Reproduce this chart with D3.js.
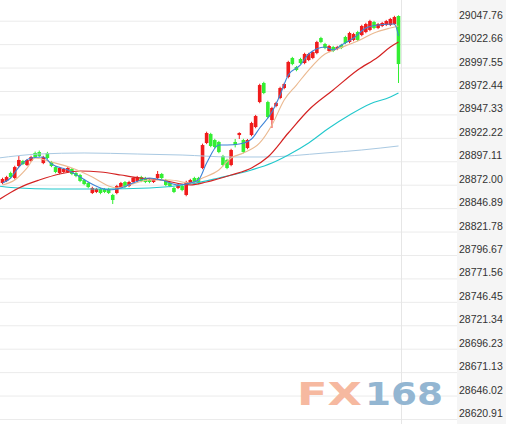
<!DOCTYPE html>
<html><head><meta charset="utf-8">
<script src="https://cdn.jsdelivr.net/npm/d3@7"></script>
<style>html,body{margin:0;padding:0;background:#fff;overflow:hidden}</style>
</head><body><svg id="c" width="506" height="424"></svg>
<script>
const tickLabels = ["29047.76","29022.66","28997.55","28972.44","28947.33","28922.22","28897.11","28872.00","28846.89","28821.78","28796.67","28771.56","28746.45","28721.34","28696.23","28671.13","28646.02","28620.91"];

const opens = [28873.8,28876.0,28884.5,28879.2,28892.0,28897.4,28893.1,28897.4,28906.0,28907.0,
28895.2,28906.0,28896.3,28890.9,28884.5,28885.6,28885.6,28888.8,28884.5,28882.4,
28877.0,28873.8,28863.1,28864.2,28867.4,28867.4,28867.4,28861.0,28863.1,28869.5,
28874.9,28870.6,28874.9,28876.0,28880.2,28879.2,28877.0,28874.9,28879.2,28883.5,
28877.0,28873.8,28868.5,28868.5,28870.6,28861.0,28873.8,28879.2,28879.2,28889.9,
28916.7,28926.3,28919.9,28917.8,28902.8,28898.5,28893.1,28917.8,28925.2,28919.9,
28911.3,28925.2,28933.8,28960.6,28981.0,28960.6,28941.3,28956.3,28964.9,28975.6,
28987.4,29007.8,28998.1,29006.7,29002.4,29005.6,29007.8,29013.1,29029.2,29022.8,
29015.3,29019.6,29017.4,29021.7,29030.3,29024.9,29027.1,29035.6,29032.4,29035.6,
29037.8,29046.4,29039.9,29042.1,29043.2,29043.2,29044.2,29052.8];

const closes = [28878.1,28880.2,28880.2,28890.9,28898.5,28894.2,28898.5,28901.7,28901.7,28902.8,
28901.7,28900.6,28892.0,28885.6,28889.9,28888.8,28889.9,28883.5,28881.3,28876.0,
28872.7,28869.5,28868.5,28867.4,28863.1,28864.2,28863.1,28855.6,28870.6,28873.8,
28869.5,28874.9,28879.2,28880.2,28876.0,28874.9,28874.9,28877.0,28883.5,28879.2,
28871.7,28870.6,28864.2,28871.7,28866.3,28874.9,28877.0,28874.9,28873.8,28914.5,
28927.4,28913.5,28912.4,28907.0,28893.1,28889.9,28909.2,28914.5,28927.4,28907.0,
28919.9,28938.1,28945.6,28978.8,28970.3,28944.5,28954.2,28959.6,28975.6,28979.9,
29003.5,29001.3,28994.9,29002.4,29012.1,29012.1,29014.2,29024.9,29024.9,29018.5,
29020.6,29015.3,29019.6,29018.5,29023.9,29034.6,29033.5,29027.1,29042.1,29044.2,
29047.4,29039.9,29044.2,29045.3,29047.4,29049.6,29051.7,29001.3];

const highs = [28879.5,28881.5,28886.0,28892.3,28902.8,28898.6,28899.6,28903.0,28907.5,28908.6,
28903.0,28907.2,28897.5,28892.0,28891.0,28890.0,28891.2,28890.0,28885.6,28883.6,
28878.2,28875.0,28869.8,28868.6,28868.7,28868.5,28868.6,28862.2,28871.8,28875.0,
28876.0,28876.2,28880.5,28881.4,28881.5,28880.4,28878.3,28878.2,28886.7,28884.6,
28878.2,28875.0,28869.7,28873.0,28871.8,28876.2,28878.3,28880.5,28880.4,28916.0,
28928.8,28927.6,28921.2,28919.0,28904.0,28899.8,28910.5,28921.0,28928.2,28921.2,
28921.0,28939.4,28946.8,28980.2,28982.3,28962.0,28955.5,28960.8,28977.0,28981.2,
29004.8,29009.0,28999.3,29008.0,29013.4,29013.3,29015.5,29026.2,29030.5,29024.0,
29021.8,29020.8,29020.8,29023.0,29031.6,29035.9,29034.8,29036.9,29043.4,29045.5,
29048.7,29047.6,29045.4,29046.5,29048.6,29050.8,29053.0,29053.5];

const lows = [28872.5,28874.8,28879.0,28877.6,28890.8,28893.0,28892.0,28896.3,28900.5,28901.5,
28894.0,28899.4,28890.8,28884.3,28883.2,28884.6,28884.5,28882.2,28880.0,28874.7,
28871.5,28868.2,28862.0,28863.0,28861.8,28863.0,28862.0,28851.3,28861.8,28868.3,
28868.4,28869.4,28873.6,28874.8,28874.7,28873.7,28873.6,28873.8,28878.0,28878.0,
28870.5,28869.4,28863.0,28867.3,28865.0,28859.6,28872.6,28873.6,28872.5,28888.6,
28915.5,28912.2,28911.0,28905.7,28891.8,28888.6,28891.8,28912.0,28921.0,28905.6,
28910.0,28923.9,28932.5,28959.3,28969.0,28943.2,28932.8,28955.0,28963.6,28974.3,
28986.0,29000.0,28993.6,29001.2,29001.1,29004.4,29006.5,29011.8,29023.6,29017.2,
29014.0,29014.1,29016.2,29017.3,29022.6,29023.6,29025.8,29025.8,29031.1,29034.3,
29036.5,29038.6,29038.7,29040.9,29042.0,29042.0,29043.0,28981.0];

// moving averages: [candle index, value]
const ma5 = [[0,28873.8],[2,28879.2],[4,28890.9],[7,28900.6],[10,28901.7],[12,28894.2],[16,28887.8],[19,28880.2],[21,28874.9],[24,28868.5],[26,28866.3],[29,28868.5],[32,28873.8],[36,28879.2],[39,28877.0],[43,28871.7],[46,28873.8],[48,28877.0],[50,28895.2],[53,28914.5],[55,28914.5],[58,28915.6],[61,28921.0],[63,28932.8],[66,28949.9],[68,28968.1],[70,28989.6],[73,29000.3],[75,29012.1],[79,29019.6],[81,29016.4],[83,29021.7],[86,29029.2],[89,29039.9],[92,29043.2],[96,29044.2],[97,29031.4]];
const ma10 = [[0,28871.7],[3,28877.0],[6,28889.9],[8,28900.6],[12,28896.3],[17,28889.9],[22,28880.2],[26,28870.6],[28,28868.5],[31,28871.7],[36,28877.0],[41,28877.0],[46,28873.8],[49,28879.2],[53,28887.8],[56,28900.6],[59,28906.0],[63,28916.7],[66,28936.0],[69,28962.8],[72,28978.8],[75,28994.9],[79,29012.1],[82,29017.4],[87,29026.0],[91,29034.6],[95,29039.9],[97,29042.1]];
const ma20 = [[-1,28855.6],[4,28868.5],[9,28877.0],[14,28883.5],[19,28886.7],[24,28885.6],[29,28882.4],[32,28880.2],[39,28877.0],[46,28871.7],[50,28874.9],[56,28882.4],[61,28889.9],[65,28901.7],[70,28927.4],[75,28952.1],[81,28973.5],[87,28994.9],[92,29008.9],[95,29019.6],[97,29024.9]];
const ma60 = [[-1,28870.6],[4,28868.5],[12,28867.4],[24,28867.4],[36,28868.5],[46,28872.7],[53,28879.2],[61,28887.8],[66,28895.2],[70,28903.8],[75,28916.7],[80,28932.8],[85,28946.7],[90,28958.5],[95,28966.0],[97,28970.3]];
const ma120 = [[-1,28900.6],[9,28904.9],[20,28906.0],[33,28904.9],[44,28903.8],[56,28901.7],[64,28901.7],[79,28906.0],[88,28909.2],[97,28913.5]];

const W = 506, H = 424;
const svg = d3.select('#c');
svg.append('rect').attr('width', W).attr('height', H).attr('fill', '#fff');
svg.append('rect').attr('x', 457).attr('y', 0).attr('width', W - 457).attr('height', H).attr('fill', '#f5f5f5');

const y = d3.scaleLinear().domain([28620.91, 29047.76]).range([419, 20.7]);
const x = d3.scaleLinear().domain([0, opens.length - 1]).range([2.5, 398.5]);

const ax = svg.append('g').attr('class', 'axis')
  .call(d3.axisRight(y).tickValues(tickLabels.map(Number)).tickSize(457).tickPadding(2)
    .tickFormat((d, i) => tickLabels[i]));
ax.select('.domain').remove();
ax.selectAll('line').attr('stroke', '#ebebeb');
ax.selectAll('text').attr('dy', null).attr('y', -2.5).attr('x', 459)
  .attr('fill', '#333').style('font-family', '"Liberation Sans", Arial, sans-serif').style('font-size', '10.5px');

svg.append('line').attr('x1', 401.5).attr('x2', 401.5).attr('y1', 0).attr('y2', H).attr('stroke', '#e6e6e6');

// watermark
const wm = svg.append('g').style('font-family', '"DejaVu Sans", sans-serif').style('font-weight', 'bold').style('font-size', '31.5px');
wm.append('text').attr('x', 297).attr('y', 405).attr('textLength', 65).attr('lengthAdjust', 'spacingAndGlyphs').attr('fill', '#f6b9a0').text('FX');
wm.append('text').attr('x', 365).attr('y', 405).attr('textLength', 78).attr('lengthAdjust', 'spacingAndGlyphs').attr('fill', '#93b6d2').text('168');

svg.append('clipPath').attr('id', 'clip').append('rect').attr('x', 0).attr('y', 0).attr('width', 401).attr('height', H);
const plot = svg.append('g').attr('clip-path', 'url(#clip)');

const UP = '#f01c1c', DOWN = '#33ee33';
const candles = opens.map((o, i) => ({i, o, c: closes[i], h: highs[i], l: lows[i]}));
const cg = plot.append('g');
cg.selectAll('line').data(candles).join('line')
  .attr('x1', d => x(d.i)).attr('x2', d => x(d.i))
  .attr('y1', d => y(d.h)).attr('y2', d => y(d.l))
  .attr('stroke', d => d.c >= d.o ? UP : DOWN).attr('stroke-width', 1);
cg.selectAll('rect').data(candles).join('rect')
  .attr('x', d => x(d.i) - 1.8).attr('width', 3.6)
  .attr('y', d => y(Math.max(d.o, d.c)))
  .attr('height', d => Math.max(1.2, Math.abs(y(d.o) - y(d.c))))
  .attr('fill', d => d.c >= d.o ? UP : DOWN);

const line = d3.line().x(d => x(d[0])).y(d => y(d[1])).curve(d3.curveMonotoneX);
const series = [[ma120, '#a9c9e2', 1], [ma60, '#22c8cc', 1.1], [ma20, '#d42222', 1.2], [ma10, '#ebb990', 1.1], [ma5, '#3d84d8', 1.1]];
series.forEach(([data, col, w]) => {
  plot.append('path').datum(data).attr('d', line).attr('fill', 'none').attr('stroke', col).attr('stroke-width', w);
});
</script></body></html>
